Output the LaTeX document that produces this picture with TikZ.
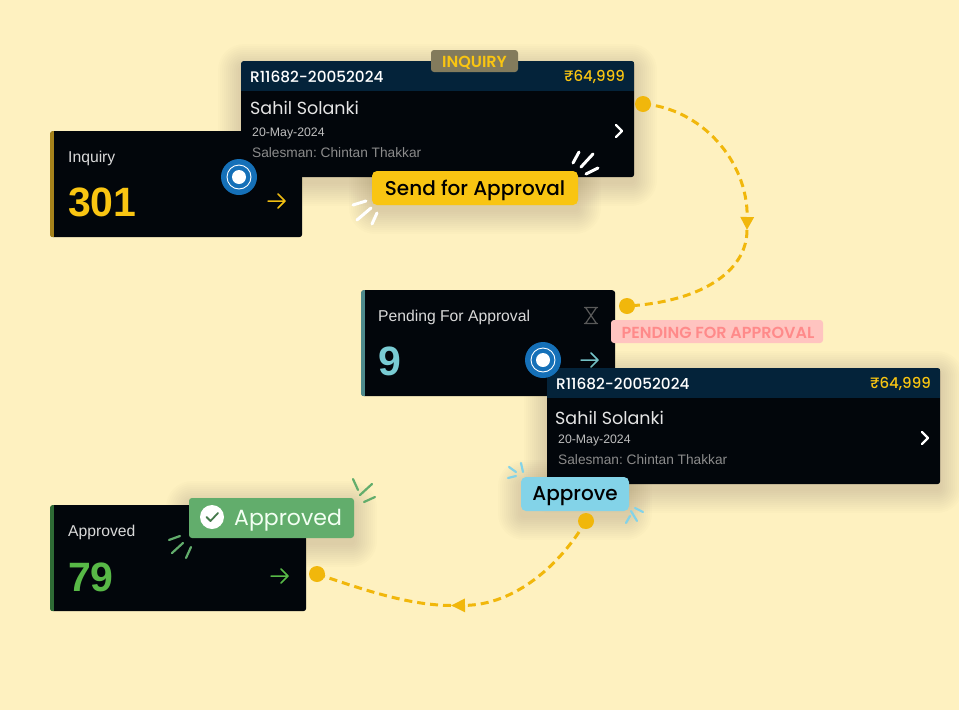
\documentclass[tikz,border=0pt]{standalone}
\usepackage{fontspec}
\setmainfont{Liberation Sans}
\newfontfamily\popfont{Poppins}
\newfontfamily\popmed{Poppins Medium}
\newfontfamily\popsemi{Poppins SemiBold}
\usepackage{xcolor}
\usetikzlibrary{arrows.meta,positioning}
\definecolor{cream}{HTML}{FEF1C0}
\definecolor{cardblack}{HTML}{02060B}
\definecolor{headblue}{HTML}{04233A}
\definecolor{gold}{HTML}{F9C512}
\definecolor{flowgold}{HTML}{F1B70B}
\definecolor{markblue}{HTML}{1570B8}
\definecolor{tealnum}{HTML}{79CBD3}
\definecolor{greennum}{HTML}{58B947}
\definecolor{badgegreen}{HTML}{62AD6C}
\definecolor{skyblue}{HTML}{83D3E8}
\definecolor{pinktag}{HTML}{FFC4C0}
\definecolor{pinktext}{HTML}{FF8A8A}
\definecolor{olivetag}{HTML}{837B5C}
\newcommand{\softshadow}[4]{%
  \foreach \s in {1,3,...,23}
    \fill[black!70!brown,opacity=0.013,rounded corners=\s pt+3pt] (#1-\s,#2-\s+6) rectangle (#3+\s,#4+\s+6);
}
\tikzset{
  statcard/.style={fill=cardblack,rounded corners=3pt,inner sep=0pt,anchor=north west,minimum height=106pt},
  ordercard/.style={fill=cardblack,rounded corners=3pt,inner sep=0pt,anchor=north west,minimum width=393pt,minimum height=116pt},
  textleft/.style={anchor=west,inner sep=0pt},
  statlabel/.style={textleft,text=white!85!black,font=\fontsize{15.7}{16}\selectfont},
  statnum/.style={textleft,font=\bfseries\fontsize{41}{44}\selectfont},
  tagbox/.style={rounded corners=3pt,inner sep=0pt,font=\popsemi\fontsize{16}{16}\selectfont},
  actionbtn/.style={rounded corners=5pt,inner sep=0pt,text=black,font=\popmed\fontsize{20}{22}\selectfont},
  marker/.style={circle,fill=markblue,minimum size=36pt,inner sep=0pt},
  flowdot/.style={circle,fill=flowgold,minimum size=16pt,inner sep=0pt},
  flowline/.style={flowgold,line width=3pt,dash pattern=on 8pt off 5pt},
  iconline/.style={line width=1.5pt,line cap=round,line join=round},
  spark/.style={line width=2.2pt,line cap=round},
}
\frenchspacing
\begin{document}
\begin{tikzpicture}[x=1pt,y=-1pt]
	% Page background.
	\useasboundingbox (0,0) rectangle (959,710);
	\fill[cream] (0,0) rectangle (959,710);

	% The three counter cards.
	\foreach \cname/\cx/\cy/\cw/\strip in {inquiry/50/131/252/A5821B, pending/361/290/254/4E8A8C, approved/50/505/256/2E6B35}{
		\definecolor{stripcol}{HTML}{\strip}
		\node[statcard,minimum width=\cw pt] (\cname) at (\cx,\cy) {};
		\begin{scope}
			\clip[rounded corners=3pt] (\cname.north west) rectangle (\cname.south east);
			\fill[stripcol] (\cx,\cy) rectangle (\cx+3.5,\cy+106);
		\end{scope}
	}
	\node[statlabel] (inquiryText) at (68,158) {Inquiry};
	\node[statnum,text=gold] (inquiryNum) at (68,202) {301};
	\node[statlabel] (pendingText) at (378,317) {Pending For Approval};
	\node[statnum,text=tealnum] (pendingNum) at (378,361) {9};
	\node[statlabel] (approvedText) at (68,532) {Approved};
	\node[statnum,text=greennum] (approvedNum) at (68,577) {79};

	% Small arrows in the counter cards.
	\foreach \ax/\ay/\acol in {268/201/gold, 581/360/tealnum, 271/576/greennum}
		\draw[iconline,\acol] (\ax,\ay) -- (\ax+17,\ay) (\ax+10,\ay-7) -- (\ax+17,\ay) -- (\ax+10,\ay+7);

	% Hourglass of the pending card.
	\draw[iconline,line width=1.2pt,white!35!black] (584.5,307.5) -- (597.5,307.5) (584.5,323.5) -- (597.5,323.5)
		(585.5,307.5) -- (596.5,323.5) (596.5,307.5) -- (585.5,323.5);

	% The two order cards.
	\foreach \oname/\ox/\oy/\ny/\nx in {orderA/241/61/47/9, orderB/547/368/50/8}{
		\softshadow{\ox}{\oy}{\ox+393}{\oy+116}
		\node[ordercard] (\oname) at (\ox,\oy) {};
		\begin{scope}
			\clip[rounded corners=3pt] (\oname.north west) rectangle (\oname.south east);
			\fill[headblue] (\ox,\oy) rectangle (\ox+393,\oy+30);
		\end{scope}
		\node[textleft,white,font=\popmed\fontsize{15.3}{16}\selectfont] (\oname-id) at (\ox+9,\oy+15.5) {R11682-20052024};
		\node[anchor=east,inner sep=0pt,gold,font=\popmed\fontsize{15}{16}\selectfont] (\oname-price) at (\ox+384,\oy+15.5) {₹64,999};
		\node[textleft,white!90!black,font=\popfont\fontsize{17.5}{20}\selectfont] (\oname-name) at (\ox+\nx,\oy+\ny) {Sahil Solanki};
		\node[textleft,white!75!black,font=\fontsize{12.3}{13}\selectfont] (\oname-date) at (\ox+11,\oy+72.5) {20-May-2024};
		\node[textleft,white!55!black,font=\fontsize{13.7}{14}\selectfont] (\oname-man) at (\ox+11,\oy+91.5) {Salesman: Chintan Thakkar};
		\draw[iconline,white,line width=2.2pt] (\ox+375,\oy+64) -- (\ox+381,\oy+70) -- (\ox+375,\oy+76);
	}

	% Status tags.
	\node[tagbox,fill=olivetag,minimum width=87pt,minimum height=22pt] (tagInquiry) at (474.5,61) {};
	\node[textleft,anchor=center,text=gold,font=\popsemi\fontsize{16}{16}\selectfont] (tagInquiryText) at (474.5,62.5) {INQUIRY};
	\node[tagbox,fill=pinktag,minimum width=212pt,minimum height=23pt] (tagPending) at (717,331.5) {};
	\node[textleft,anchor=center,text=pinktext,font=\popsemi\fontsize{16}{16}\selectfont] (tagPendingText) at (718,332.5) {PENDING FOR APPROVAL};

	% Action buttons, each with a soft shadow.
	\softshadow{372}{171}{578}{205}
	\node[actionbtn,fill=gold,minimum width=206pt,minimum height=34pt,text depth=0pt] (btnSend) at (475,188) {Send for Approval};
	\softshadow{521}{477}{629}{511}
	\node[actionbtn,fill=skyblue,minimum width=108pt,minimum height=34pt,text depth=0pt] (btnApprove) at (575,494) {Approve};
	\softshadow{189}{498}{354}{538}
	\node[rounded corners=3pt,fill=badgegreen,minimum width=165pt,minimum height=40pt,inner sep=0pt] (badgeApproved) at (271.5,518) {};
	\node[textleft,text=white!95!green,font=\popfont\fontsize{22}{24}\selectfont] (badgeText) at (234,520) {Approved};
	\node[circle,fill=white,minimum size=24pt,inner sep=0pt] (badgeCheck) at (212,517) {};
	\draw[iconline,badgegreen!70!black,line width=1.8pt] (206.5,517) -- (210.5,521) -- (218,513);

	% Sparks around the buttons.
	\foreach \xa/\ya/\xb/\yb in {579/152/573/163, 593/154/581/167, 598/168/586/174, 353/205/366/201, 357/220/371/208, 372/224/377/213}
		\draw[spark,white,line width=3pt] (\xa,\ya) -- (\xb,\yb);
	\foreach \xa/\ya/\xb/\yb in {509/467/516/472, 521/463/523/472, 508/478/516/476, 626/523/630/516, 637/521/631/511, 643/512/635/508}
		\draw[spark,skyblue] (\xa,\ya) -- (\xb,\yb);
	\foreach \xa/\ya/\xb/\yb in {353/479/358/490, 372/484/360/495, 375/497/364/502, 169/540/180/536, 172/553/183/543, 186/558/191/547}
		\draw[spark,badgegreen] (\xa,\ya) -- (\xb,\yb);

	% Blue markers on the cards.
	\foreach \mname/\mx/\my in {markA/239/177, markB/543/360}{
		\node[marker] (\mname) at (\mx,\my) {};
		\draw[white,line width=0.9pt] (\mname.center) circle (12);
		\fill[white] (\mname.center) circle (7);
	}

	% Dashed flow between the cards.
	\node[flowdot] (dotA) at (643,104) {};
	\node[flowdot] (dotB) at (627,306) {};
	\node[flowdot] (dotC) at (586,521) {};
	\node[flowdot] (dotD) at (317,574) {};
	\coordinate (turnA) at (747,230);
	\coordinate (turnB) at (451,605.5);
	\draw[flowline,-{Triangle[length=13pt,width=13pt]}] (dotA.center) .. controls (700,108) and (748,160) .. (turnA);
	\draw[flowline] (turnA) .. controls (747,272) and (700,302) .. (dotB.center);
	\draw[flowline,-{Triangle[length=14pt,width=13pt]}] (dotC.center) .. controls (560,565) and (515,605) .. (turnB);
	\draw[flowline] (turnB) .. controls (410,605) and (370,592) .. (dotD.center);
\end{tikzpicture}
\end{document}
